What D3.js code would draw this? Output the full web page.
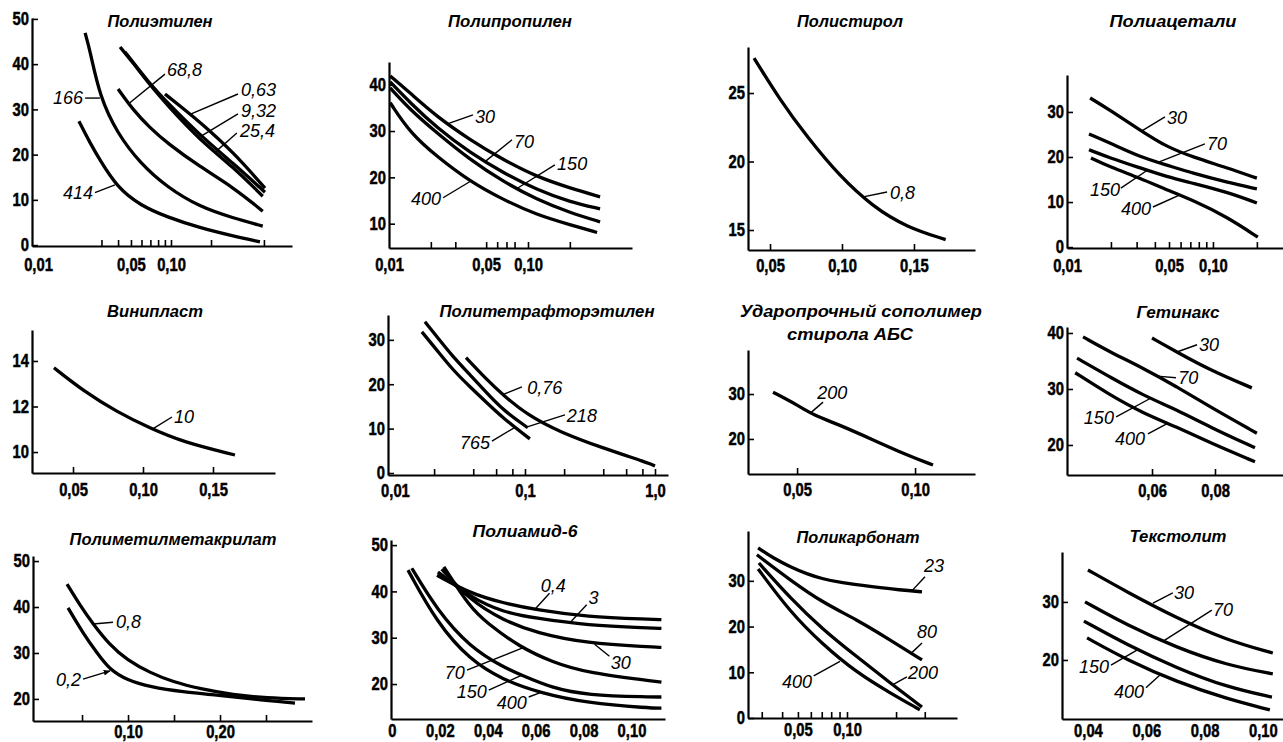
<!DOCTYPE html>
<html>
<head>
<meta charset="utf-8">
<script src="https://cdn.jsdelivr.net/npm/d3@7"></script>
<style>
  html, body { margin: 0; padding: 0; background: #fff; }
  svg { display: block; }
</style>
</head>
<body>
<svg id="chart" width="1283" height="742"></svg>
<script>
// ---------------- Полиэтилен ----------------
const peXTicks = [0.03, 0.04, 0.05, 0.06, 0.07, 0.08, 0.09, 0.1, 0.2, 0.5];
const peXLabelAt = [0.01, 0.05, 0.1];
const peXLabels = ["0,01", "0,05", "0,10"];
const peYTicks = [0, 10, 20, 30, 40, 50];
const pe166 = [[0.0226,46.9],[0.0246,43],[0.0292,32.7],[0.0393,24.8],[0.0585,18.1],[0.0933,12.8],[0.165,8.4],[0.293,6],[0.49,4.2]];
const pe414 = [[0.0203,27.4],[0.0246,22.6],[0.0292,18.8],[0.0393,12.8],[0.0585,8.8],[0.0933,6.2],[0.165,3.8],[0.293,2],[0.467,0.7]];
const pe688 = [[0.04,34.5],[0.0518,29.9],[0.0695,25.9],[0.0933,22.6],[0.165,17.3],[0.293,12.8],[0.49,7.5]];
const pe254 = [[0.0414,43.8],[0.0518,40.3],[0.0695,35.4],[0.0933,31],[0.165,23.2],[0.293,17.3],[0.49,10.8]];
const pe932 = [[0.0451,42.7],[0.0695,35.6],[0.0933,31.6],[0.165,24.3],[0.293,18.1],[0.509,11.7]];
const pe063 = [[0.0901,33.4],[0.127,29.9],[0.165,27.2],[0.293,20.6],[0.509,12.6]];

// ---------------- Полипропилен ----------------
const ppXTicks = [0.02, 0.03, 0.05, 0.06, 0.07, 0.08, 0.1, 0.2];
const ppXLabelAt = [0.01, 0.05, 0.1];
const ppXLabels = ["0,01", "0,05", "0,10"];
const ppYTicks = [10, 20, 30, 40];
const pp30 = [[0.0102,41.9],[0.0142,38.2],[0.0221,33.1],[0.0383,28.1],[0.0661,23.8],[0.116,20.1],[0.2,17.7],[0.33,15.8]];
const pp70 = [[0.0102,40.6],[0.0142,36.1],[0.0221,30.7],[0.0383,25.3],[0.0661,21],[0.116,17.3],[0.2,14.7],[0.33,13.2]];
const pp150 = [[0.0102,39.3],[0.0142,34.6],[0.0221,29.6],[0.0383,23.8],[0.0661,19.1],[0.116,15.2],[0.2,12.4],[0.33,10.4]];
const pp400 = [[0.0102,36.1],[0.0142,29.6],[0.0221,24.5],[0.0383,19.1],[0.0661,15.2],[0.116,11.9],[0.2,9.8],[0.314,8.1]];

// ---------------- Полистирол ----------------
const psXTicks = [0.05, 0.1, 0.15];
const psXLabels = ["0,05", "0,10", "0,15"];
const psYTicks = [15, 20, 25];
const ps08 = [[0.0389,27.55],[0.0569,24.5],[0.0757,21.8],[0.0986,18.9],[0.1215,16.7],[0.145,15.2],[0.172,14.3]];

// ---------------- Полиацетали ----------------
const paXTicks = [0.02, 0.03, 0.04, 0.05, 0.06, 0.07, 0.08, 0.09, 0.1, 0.2];
const paXLabelAt = [0.01, 0.05, 0.1];
const paXLabels = ["0,01", "0,05", "0,10"];
const paYTicks = [0, 10, 20, 30];
const pa30 = [[0.0144,33.1],[0.0197,30.4],[0.0316,26],[0.0484,22.2],[0.0729,20],[0.125,17.6],[0.2,15.3]];
const pa70 = [[0.01415,25.1],[0.0197,23.1],[0.0316,20],[0.0484,18.2],[0.0729,16.4],[0.125,14.4],[0.2,12.9]];
const pa150 = [[0.01415,21.6],[0.0197,19.8],[0.0316,17.6],[0.0484,15.6],[0.0729,14.2],[0.125,12.2],[0.2,9.8]];
const pa400 = [[0.0146,19.8],[0.0197,17.8],[0.0316,15.3],[0.0484,12.7],[0.0729,10.4],[0.125,6.7],[0.203,2.2]];

// ---------------- Винипласт ----------------
const vpXTicks = [0.05, 0.1, 0.15];
const vpXLabels = ["0,05", "0,10", "0,15"];
const vpYTicks = [10, 12, 14];
const vp10 = [[0.0364,13.7],[0.0571,12.7],[0.0814,11.76],[0.105,11.05],[0.1286,10.44],[0.1657,9.87]];

// ---------------- Политетрафторэтилен ----------------
const ptXTicks = [0.02, 0.04, 0.06, 0.08, 0.1, 0.2, 0.4, 0.6, 0.8, 1];
const ptXLabelAt = [0.01, 0.1, 1];
const ptXLabels = ["0,01", "0,1", "1,0"];
const ptYTicks = [0, 10, 20, 30];
const pt765 = [[0.0161,31.8],[0.021,27.7],[0.0279,23.2],[0.0378,19.4],[0.051,15.8],[0.0677,12.4],[0.109,7.7]];
const pt218 = [[0.017,34.1],[0.021,30.7],[0.0279,26.2],[0.0378,22.1],[0.051,18],[0.0677,14.2],[0.105,10.2]];
const pt076 = [[0.0352,26],[0.051,21],[0.0677,17.6],[0.104,13.1],[0.186,9.2],[0.398,5.6],[0.883,2.3],[1.0,1.6]];

// ---------------- Ударопрочный сополимер стирола АБС ----------------
const abXTicks = [0.05, 0.1];
const abXLabels = ["0,05", "0,10"];
const abYTicks = [20, 30];
const ab200 = [[0.0398,30.4],[0.05,27.6],[0.0568,25.3],[0.0682,23.1],[0.0822,19.8],[0.0966,16.4],[0.1076,14.2]];

// ---------------- Гетинакс ----------------
const gtXTicks = [0.06, 0.08];
const gtXLabels = ["0,06", "0,08"];
const gtYTicks = [20, 30, 40];
const gt30 = [[0.06,39.1],[0.0679,36.6],[0.0784,33.4],[0.0917,30.2]];
const gt70 = [[0.0381,39.3],[0.0467,36.6],[0.0571,33.75],[0.0679,30.4],[0.0784,26.8],[0.0933,22.1]];
const gt150 = [[0.0362,35.5],[0.0467,32.1],[0.0571,28.9],[0.0679,26.25],[0.0784,23.2],[0.0927,19.5]];
const gt400 = [[0.0356,32.9],[0.0467,28.9],[0.0571,25.7],[0.0679,23.2],[0.0784,20.4],[0.0927,17]];

// ---------------- Полиметилметакрилат ----------------
const pmXTicks = [0.05, 0.1, 0.15, 0.2, 0.25];
const pmXLabelAt = [0.1, 0.2];
const pmXLabels = ["0,10", "0,20"];
const pmYTicks = [20, 30, 40, 50];
const pm08 = [[0.0337,45],[0.0478,40.4],[0.062,36.3],[0.0804,31.7],[0.0989,28.5],[0.1239,25.7],[0.1489,23.7],[0.1783,22.2],[0.2141,20.9],[0.2511,20.2],[0.2924,20]];
const pm02 = [[0.0348,39.8],[0.0511,34.3],[0.0663,30],[0.0804,26.3],[0.0989,24.1],[0.1239,22.6],[0.1598,21.5],[0.1967,20.9],[0.2326,20],[0.2815,19.1]];

// ---------------- Полиамид-6 ----------------
const paXLabelAt6 = [0, 0.02, 0.04, 0.06, 0.08, 0.1];
const paXLabels6 = ["0", "0,02", "0,04", "0,06", "0,08", "0,10"];
const paYTicks6 = [20, 30, 40, 50];
const pa6_04 = [[0.0188,43.5],[0.0325,39.6],[0.0463,37.5],[0.0604,36],[0.0813,34.5],[0.1075,34.0],[0.1125,33.9]];
const pa6_3 = [[0.0192,44.2],[0.0325,38.8],[0.0463,35.5],[0.0604,34.2],[0.0813,32.7],[0.1075,32.1],[0.1125,32.0]];
const pa6_30 = [[0.0208,44.8],[0.0325,38.1],[0.0463,33.8],[0.0604,31],[0.0813,28.8],[0.1075,28],[0.1125,27.9]];
const pa6_70 = [[0.0217,45.3],[0.0325,36.6],[0.0396,33.2],[0.0533,28],[0.0671,24.7],[0.0813,22.4],[0.1125,20.4]];
const pa6_150 = [[0.0083,45],[0.0188,36],[0.0325,28],[0.0463,23.7],[0.0542,21.9],[0.0671,19.1],[0.0813,17.6],[0.1075,17.2],[0.1125,17.2]];
const pa6_400 = [[0.0067,44.6],[0.0188,33.2],[0.0325,25.2],[0.0463,20.9],[0.0617,18.1],[0.0813,15.9],[0.1075,14.8],[0.1125,14.8]];

// ---------------- Поликарбонат ----------------
const pcXTicks = [0.03, 0.04, 0.05, 0.06, 0.07, 0.08, 0.09, 0.1, 0.2, 0.3];
const pcXLabelAt = [0.05, 0.1];
const pcXLabels = ["0,05", "0,10"];
const pcYTicks = [0, 10, 20, 30];
const pc23 = [[0.0285,37.2],[0.0352,35],[0.0447,33.1],[0.0568,31.5],[0.0713,30.4],[0.0906,29.6],[0.1445,28.7],[0.211,28],[0.2885,27.6]];
const pc80 = [[0.028,35.7],[0.0447,30.2],[0.0713,25.2],[0.115,21.5],[0.1835,17.1],[0.2885,12.7]];
const pc200 = [[0.0288,33.9],[0.0447,26.3],[0.0713,19.3],[0.115,13.4],[0.1835,7.7],[0.2885,2.4]];
const pc400 = [[0.0285,32.6],[0.0447,23.2],[0.0713,16],[0.115,9.9],[0.1835,5.5],[0.28,1.8]];

// ---------------- Текстолит ----------------
const txXLabelAt = [0.04, 0.06, 0.08, 0.1];
const txXLabels = ["0,04", "0,06", "0,08", "0,10"];
const txYTicks = [20, 30];
const tx30 = [[0.04,35.5],[0.0534,31.7],[0.0705,27.2],[0.0877,23.4],[0.1034,21.2]];
const tx70 = [[0.039,30],[0.0534,26],[0.0705,22.1],[0.0877,19.1],[0.1034,17.6]];
const tx150 = [[0.0386,26.7],[0.0534,22.6],[0.0705,18.6],[0.0877,15.3],[0.1031,13.6]];
const tx400 = [[0.0397,23.8],[0.0534,20],[0.0705,16.2],[0.0877,13.3],[0.1024,11.4]];

// ---------------- panel layout ----------------
// box: [left, right, bottom, top] of the axis frame in px; xPad: gap under the x axis for its labels
const panels = [
  { title: [["Полиэтилен", 160, 27, 105]], box: [32, 292, 246, 18], xPad: 12, log: true,
    xDomain: [0.00901, 0.813], yDomain: [-0.2, 50.2],
    xTicks: peXTicks, xLabelAt: peXLabelAt, xLabels: peXLabels, yTicks: peYTicks,
    series: [
      { data: pe166, label: { text: "166", at: [0.0218, 32.5], anchor: "end", lead: [[0.0226, 32.5], [0.0292, 32.5]] } },
      { data: pe414, label: { text: "414", at: [0.0259, 11.5], anchor: "end", lead: [[0.0268, 11.6], [0.0379, 13.3]] } },
      { data: pe688, label: { text: "68,8", at: [0.0933, 38.7], anchor: "start", lead: [[0.0901, 37.8], [0.0483, 31.3]] } },
      { data: pe254, label: { text: "25,4", at: [0.33, 25.2], anchor: "start", lead: [[0.313, 24.8], [0.214, 20.5]] } },
      { data: pe932, label: { text: "9,32", at: [0.336, 29.6], anchor: "start", lead: [[0.319, 29], [0.171, 24.2]] } },
      { data: pe063, label: { text: "0,63", at: [0.336, 34.3], anchor: "start", lead: [[0.319, 33.4], [0.139, 28.9]] } }
    ] },
  { title: [["Полипропилен", 510, 27, 124]], box: [389, 632, 248, 62], xPad: 10, log: true,
    xDomain: [0.01, 0.56], yDomain: [4.75, 44.9],
    xTicks: ppXTicks, xLabelAt: ppXLabelAt, xLabels: ppXLabels, yTicks: ppYTicks,
    series: [
      { data: pp30, label: { text: "30", at: [0.0416, 33.1], anchor: "start", lead: [[0.0402, 33.5], [0.0266, 31.6]] } },
      { data: pp70, label: { text: "70", at: [0.0793, 27.7], anchor: "start", lead: [[0.0767, 28.1], [0.0491, 23.4]] } },
      { data: pp150, label: { text: "150", at: [0.162, 22.9], anchor: "start", lead: [[0.156, 22.7], [0.0833, 17.6]] } },
      { data: pp400, label: { text: "400", at: [0.0237, 15.4], anchor: "end", lead: [[0.0245, 15.6], [0.0383, 19.1]] } }
    ] },
  { title: [["Полистирол", 850, 27, 106]], box: [748, 975, 250, 47], xPad: 9, log: false,
    xDomain: [0.0347, 0.1924], yDomain: [13.54, 28.36],
    xTicks: psXTicks, xLabelAt: psXTicks, xLabels: psXLabels, yTicks: psYTicks,
    series: [
      { data: ps08, label: { text: "0,8", at: [0.1333, 17.7], anchor: "start", lead: [[0.1313, 17.77], [0.1139, 17.4]] } }
    ] },
  { title: [["Полиацетали", 1173, 27, 127]], box: [1067, 1283, 248, 75], xPad: 11, log: true,
    xDomain: [0.01, 0.302], yDomain: [-0.2, 38.2],
    xTicks: paXTicks, xLabelAt: paXLabelAt, xLabels: paXLabels, yTicks: paYTicks,
    series: [
      { data: pa30, label: { text: "30", at: [0.0484, 28.7], anchor: "start", lead: [[0.0469, 28.9], [0.0326, 25.8]] } },
      { data: pa70, label: { text: "70", at: [0.091, 22.9], anchor: "start", lead: [[0.0881, 22.9], [0.042, 18.8]] } },
      { data: pa150, label: { text: "150", at: [0.0231, 12.7], anchor: "end", lead: [[0.0234, 13.1], [0.0353, 17]] } },
      { data: pa400, label: { text: "400", at: [0.0376, 8.4], anchor: "end", lead: [[0.0388, 8.9], [0.0594, 11.6]] } }
    ] },
  { title: [["Винипласт", 155, 317, 96]], box: [32, 275, 473, 330], xPad: 10, log: false,
    xDomain: [0.0207, 0.1943], yDomain: [9.08, 15.36],
    xTicks: vpXTicks, xLabelAt: vpXTicks, xLabels: vpXLabels, yTicks: vpYTicks,
    series: [
      { data: vp10, label: { text: "10", at: [0.1221, 11.54], anchor: "start", lead: [[0.1207, 11.54], [0.1064, 11.0]] } }
    ] },
  { title: [["Политетрафторэтилен", 547, 317, 215]], box: [388, 668, 475, 315], xPad: 9, log: true,
    xDomain: [0.00884, 1.259], yDomain: [-0.45, 35.6],
    xTicks: ptXTicks, xLabelAt: ptXLabelAt, xLabels: ptXLabels, yTicks: ptYTicks,
    series: [
      { data: pt765, label: { text: "765", at: [0.0538, 6.8], anchor: "end", lead: [[0.0557, 7.2], [0.0838, 10.3]] } },
      { data: pt218, label: { text: "218", at: [0.21, 12.9], anchor: "start", lead: [[0.203, 13.1], [0.104, 10.4]] } },
      { data: pt076, label: { text: "0,76", at: [0.104, 19.2], anchor: "start", lead: [[0.0948, 19.4], [0.0665, 17.6]] } }
    ] },
  { title: [["Ударопрочный сополимер", 861, 317, 242], ["стирола АБС", 850, 340, 126]], box: [748, 975, 474, 350], xPad: 9, log: false,
    xDomain: [0.0292, 0.1254], yDomain: [12.2, 39.8],
    xTicks: abXTicks, xLabelAt: abXTicks, xLabels: abXLabels, yTicks: abYTicks,
    series: [
      { data: ab200, label: { text: "200", at: [0.0585, 30.2], anchor: "start", lead: [[0.061, 28.2], [0.0555, 25.7]] } }
    ] },
  { title: [["Гетинакс", 1178, 318, 83]], box: [1067, 1283, 475, 327], xPad: 9, log: false,
    xDomain: [0.033, 0.1016], yDomain: [14.64, 41.07],
    xTicks: gtXTicks, xLabelAt: gtXTicks, xLabels: gtXLabels, yTicks: gtYTicks,
    series: [
      { data: gt30, label: { text: "30", at: [0.0749, 37.9], anchor: "start", lead: [[0.0743, 37.9], [0.0679, 36.6]] } },
      { data: gt70, label: { text: "70", at: [0.0683, 32], anchor: "start", lead: [[0.0676, 32], [0.0616, 32.3]] } },
      { data: gt150, label: { text: "150", at: [0.0479, 24.8], anchor: "end", lead: [[0.0486, 25], [0.0594, 28.3]] } },
      { data: gt400, label: { text: "400", at: [0.0578, 21.1], anchor: "end", lead: [[0.0587, 22], [0.0651, 23.9]] } }
    ] },
  { title: [["Полиметилметакрилат", 173, 545, 207]], box: [33, 312, 721, 556], xPad: 4, log: false,
    xDomain: [-0.0033, 0.30], yDomain: [15.2, 51.1],
    xTicks: pmXTicks, xLabelAt: pmXLabelAt, xLabels: pmXLabels, yTicks: pmYTicks,
    series: [
      { data: pm08, label: { text: "0,8", at: [0.087, 36.7], anchor: "start", lead: [[0.0837, 36.7], [0.062, 36.3]] } },
      { data: pm02, label: { text: "0,2", at: [0.0489, 24.1], anchor: "end", lead: [[0.0511, 24.3], [0.0804, 26.1]], arrow: true } }
    ] },
  { title: [["Полиамид-6", 525, 537, 105]], box: [391, 665, 719, 540], xPad: 5, log: false,
    xDomain: [-0.0004, 0.114], yDomain: [12.45, 51.1],
    xTicks: [], xLabelAt: paXLabelAt6, xLabels: paXLabels6, yTicks: paYTicks6,
    series: [
      { data: pa6_04, label: { text: "0,4", at: [0.0621, 41.2], anchor: "start", lead: [[0.0658, 39.6], [0.0596, 36.1]] } },
      { data: pa6_3, label: { text: "3", at: [0.0821, 38.6], anchor: "start", lead: [[0.0813, 37.1], [0.0742, 33.2]] } },
      { data: pa6_30, label: { text: "30", at: [0.0913, 24.5], anchor: "start", lead: [[0.0908, 26], [0.0846, 28.6]] } },
      { data: pa6_70, label: { text: "70", at: [0.0304, 22.4], anchor: "end", lead: [[0.0313, 23], [0.0546, 27.8]] } },
      { data: pa6_150, label: { text: "150", at: [0.0396, 18.3], anchor: "end", lead: [[0.0404, 18.7], [0.0542, 21.9]] } },
      { data: pa6_400, label: { text: "400", at: [0.0563, 15.9], anchor: "end", lead: [[0.0571, 17.2], [0.0617, 18.1]] } }
    ] },
  { title: [["Поликарбонат", 858, 543, 123]], box: [748, 957, 718, 531], xPad: 5, log: true,
    xDomain: [0.0247, 0.473], yDomain: [0, 40.9],
    xTicks: pcXTicks, xLabelAt: pcXLabelAt, xLabels: pcXLabels, yTicks: pcYTicks,
    series: [
      { data: pc23, label: { text: "23", at: [0.297, 33.3], anchor: "start", lead: [[0.301, 30.9], [0.25, 27.8]] } },
      { data: pc80, label: { text: "80", at: [0.269, 18.8], anchor: "start", lead: [[0.2885, 16.4], [0.25, 14.3]] } },
      { data: pc200, label: { text: "200", at: [0.237, 9.9], anchor: "start", lead: [[0.233, 9], [0.1915, 7.3]] } },
      { data: pc400, label: { text: "400", at: [0.061, 7.9], anchor: "end", lead: [[0.0625, 9.2], [0.0906, 12.4]] } }
    ] },
  { title: [["Текстолит", 1178, 542, 97]], box: [1062, 1283, 719, 552], xPad: 5, log: false,
    xDomain: [0.0311, 0.1069], yDomain: [9.83, 38.6],
    xTicks: [], xLabelAt: txXLabelAt, xLabels: txXLabels, yTicks: txYTicks,
    series: [
      { data: tx30, label: { text: "30", at: [0.0695, 31.55], anchor: "start", lead: [[0.0691, 31.55], [0.0623, 29.8]] } },
      { data: tx70, label: { text: "70", at: [0.0829, 28.6], anchor: "start", lead: [[0.0825, 28.6], [0.0657, 23.2]] } },
      { data: tx150, label: { text: "150", at: [0.0472, 18.8], anchor: "end", lead: [[0.0479, 19.1], [0.0568, 21.7]] } },
      { data: tx400, label: { text: "400", at: [0.0592, 14.5], anchor: "end", lead: [[0.0599, 15.2], [0.0647, 17.4]] } }
    ] }
];

// ---------------- rendering ----------------
const NUM_FONT = "'Liberation Sans Narrow','Arial Narrow','Liberation Sans',Arial,sans-serif";
const TXT_FONT = "'Liberation Sans',Arial,sans-serif";
const NUM_SQUEEZE = 0.82;   // condensed look for the tick numerals
const svg = d3.select("#chart");

svg.append("defs").append("marker")
  .attr("id", "arrow").attr("viewBox", "0 0 10 10")
  .attr("refX", 9).attr("refY", 5)
  .attr("markerWidth", 7).attr("markerHeight", 7)
  .attr("markerUnits", "userSpaceOnUse")
  .attr("orient", "auto")
  .append("path").attr("d", "M0,1 L10,5 L0,9 Z").attr("fill", "#000");

function styleAxis(g) {
  g.attr("font-family", NUM_FONT).attr("font-size", 18).attr("font-weight", "bold");
  g.select(".domain").attr("stroke", "#000").attr("stroke-width", 2.2);
  g.selectAll(".tick line").attr("stroke", "#000").attr("stroke-width", 1.6);
  g.selectAll(".tick text").attr("fill", "#000")
    .attr("stroke", "#000").attr("stroke-width", 0.5)
    .each(function () {
      const w = this.getComputedTextLength();
      if (w > 0) d3.select(this).attr("textLength", w * NUM_SQUEEZE).attr("lengthAdjust", "spacingAndGlyphs");
    });
}

function drawPanel(p) {
  const g = svg.append("g");
  const [left, right, bottom, top] = p.box;
  const x = (p.log ? d3.scaleLog() : d3.scaleLinear()).domain(p.xDomain).range([left, right]);
  const y = d3.scaleLinear().domain(p.yDomain).range([bottom, top]);

  // x tick marks (inward)
  const xt = g.append("g").attr("transform", `translate(0,${bottom})`)
    .call(d3.axisBottom(x).tickValues(p.xTicks).tickFormat("").tickSize(-6).tickSizeOuter(0));
  styleAxis(xt);

  // x tick labels
  const xl = g.append("g").attr("transform", `translate(0,${bottom})`)
    .call(d3.axisBottom(x).tickValues(p.xLabelAt).tickFormat((d, i) => p.xLabels[i]).tickSize(0).tickPadding(p.xPad));
  styleAxis(xl);
  xl.select(".domain").remove();

  // y axis with inward ticks
  const ya = g.append("g").attr("transform", `translate(${left},0)`)
    .call(d3.axisLeft(y).tickValues(p.yTicks).tickFormat(d3.format("d")).tickSize(-6).tickSizeOuter(0).tickPadding(3));
  styleAxis(ya);

  // title
  p.title.forEach(([t, cx, by, w]) => {
    g.append("text")
      .attr("x", cx).attr("y", by)
      .attr("text-anchor", "middle")
      .attr("font-family", TXT_FONT).attr("font-size", 17)
      .attr("font-style", "italic").attr("font-weight", "bold")
      .attr("textLength", w).attr("lengthAdjust", "spacingAndGlyphs")
      .text(t);
  });

  // curves
  const line = d3.line().x(d => x(d[0])).y(d => y(d[1])).curve(d3.curveBasis);
  p.series.forEach(s => {
    g.append("path")
      .attr("d", line(s.data))
      .attr("fill", "none").attr("stroke", "#000")
      .attr("stroke-width", 3.3).attr("stroke-linecap", "butt").attr("stroke-linejoin", "round");
  });

  // curve labels with leader lines
  p.series.forEach(s => {
    const L = s.label;
    if (!L) return;
    const ln = g.append("line")
      .attr("x1", x(L.lead[0][0])).attr("y1", y(L.lead[0][1]))
      .attr("x2", x(L.lead[1][0])).attr("y2", y(L.lead[1][1]))
      .attr("stroke", "#000").attr("stroke-width", 1.4);
    if (L.arrow) ln.attr("marker-end", "url(#arrow)");
    g.append("text")
      .attr("x", x(L.at[0])).attr("y", y(L.at[1]))
      .attr("text-anchor", L.anchor).attr("dominant-baseline", "central")
      .attr("font-family", TXT_FONT).attr("font-size", 18).attr("font-style", "italic")
      .attr("fill", "#000")
      .text(L.text);
  });
}

panels.forEach(drawPanel);
</script>
</body>
</html>
